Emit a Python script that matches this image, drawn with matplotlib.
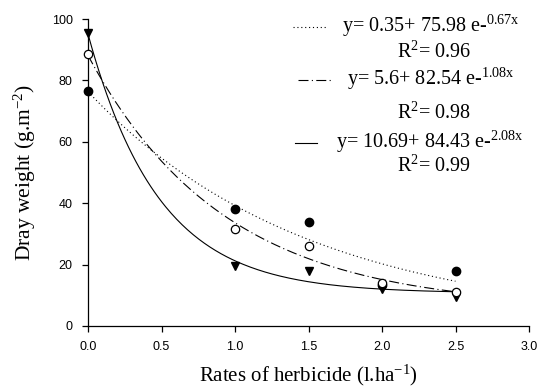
import numpy as np
import matplotlib
matplotlib.use("Agg")
import matplotlib.pyplot as plt

plt.rcParams['mathtext.fontset'] = 'custom'
plt.rcParams['mathtext.rm'] = 'Liberation Serif'
plt.rcParams['mathtext.it'] = 'Liberation Serif'

rates = [0.0, 1.0, 1.5, 2.0, 2.5]
filled = [76.6, 38.0, 34.0, 13.5, 18.0]
opened = [88.6, 31.6, 26.0, 14.0, 11.0]
triang = [95.3, 19.5, 18.0, 12.0, 9.5]

# fitted coefficients shown on the chart: y = a + b e^(-c x)
fit_a = [0.35, 5.6, 10.69]
fit_b = [75.98, 82.54, 84.43]
fit_c = [0.67, 1.08, 2.08]
r2 = ["0.96", "0.98", "0.99"]

fig = plt.figure(figsize=(5.39, 3.91), dpi=100)
ax = fig.add_axes([88/539, 1-326/391, (529-88)/539, (326-19)/391])

xs = np.linspace(0, 2.5, 200)
styles = [(0, (1, 2.5)), (0, (9, 3, 1, 3)), '-']
for a, b, c, ls in zip(fit_a, fit_b, fit_c, styles):
    ax.plot(xs, a + b*np.exp(-c*xs), color='black', lw=0.8, linestyle=ls)

ax.plot(rates, filled, 'o', color='black', ms=6, zorder=3, clip_on=False)
ax.plot(rates, opened, 'o', mfc='white', mec='black', mew=0.9, ms=6, zorder=4, clip_on=False)
ax.plot(rates, triang, 'v', color='black', ms=6, zorder=3, clip_on=False)

ax.set_xlim(0, 3)
ax.set_ylim(0, 100)
ax.set_xticks(np.arange(0, 3.01, 0.5))
ax.set_yticks(np.arange(0, 101, 20))
ax.set_xticklabels([f"{v:.1f}" for v in np.arange(0, 3.01, 0.5)])
for s in ['top', 'right']:
    ax.spines[s].set_visible(False)
for s in ['left', 'bottom']:
    ax.spines[s].set_linewidth(0.9)
ax.tick_params(direction='out', length=4, width=0.9, labelsize=9, pad=7)
for lab in ax.get_xticklabels() + ax.get_yticklabels():
    lab.set_fontfamily('Liberation Sans')

ax.set_xlabel(r"Rates of herbicide (l.ha$^{-1}$)", fontfamily='Liberation Serif', fontsize=15, labelpad=7)
ax.set_ylabel(r"Dray weight (g.m$^{-2}$)", fontfamily='Liberation Serif', fontsize=15.5, labelpad=10)

# equation annotations (figure pixel coordinates)
def fx(px): return px/539
def fy(py): return 1 - py/391

tkw = dict(fontfamily='Liberation Serif', fontsize=14.5, va='center', ha='left', transform=fig.transFigure)
eqs = [r"y= 0.35+ 75.98 e-$^{0.67x}$", r"y= 5.6+ 82.54 e-$^{1.08x}$", r"y= 10.69+ 84.43 e-$^{2.08x}$"]
eq_pos = [(342, 26), (347, 79), (336, 142)]
r_pos = [(397, 52), (397, 113), (397, 166)]
sample_x = [(293, 327), (298, 332), (295, 317)]
for i in range(3):
    fig.text(fx(eq_pos[i][0]), fy(eq_pos[i][1]), eqs[i], **tkw)
    fig.text(fx(r_pos[i][0]), fy(r_pos[i][1]), r"R$^{2}$= " + r2[i], **tkw)
    x0, x1 = sample_x[i]
    yy = fy(eq_pos[i][1] + 1)
    fig.add_artist(matplotlib.lines.Line2D([fx(x0), fx(x1)], [yy, yy], color='black', lw=0.8,
                                           linestyle=styles[i], transform=fig.transFigure))

fig.savefig("out.png", dpi=100)
